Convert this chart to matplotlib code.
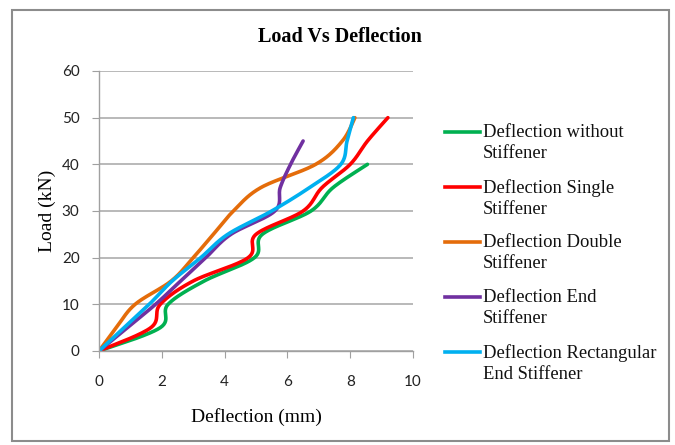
import numpy as np
import matplotlib
matplotlib.use("Agg")
import matplotlib.pyplot as plt
from matplotlib.patches import Rectangle
from matplotlib.lines import Line2D

# ---- data ----
load_9 = [0, 5, 10, 15, 20, 25, 30, 35, 40]
load_10 = [0, 5, 10, 15, 20, 25, 30, 35, 40, 45]
load_11 = [0, 5, 10, 15, 20, 25, 30, 35, 40, 45, 50]

defl_without = [0, 1.95, 2.2, 3.35, 4.95, 5.2, 6.75, 7.45, 8.55]
defl_single = [0, 1.65, 1.95, 3.0, 4.75, 5.0, 6.5, 7.1, 8.0, 8.55, 9.2]
defl_double = [0, 0.55, 1.15, 2.3, 3.0, 3.64, 4.28, 5.15, 6.9, 7.75, 8.15]
defl_end = [0, 0.9, 1.8, 2.6, 3.4, 4.2, 5.6, 5.77, 6.1, 6.5]
defl_rect = [0, 0.8, 1.6, 2.33, 3.24, 4.1, 5.5, 6.7, 7.7, 7.9, 8.1]

labels = ["Deflection without\nStiffener", "Deflection Single\nStiffener",
          "Deflection Double\nStiffener", "Deflection End\nStiffener",
          "Deflection Rectangular\nEnd Stiffener"]
colors = ["#00B050", "#FF0000", "#E46C0A", "#7030A0", "#00B0F0"]

title = "Load Vs Deflection"
xlabel = "Deflection (mm)"
ylabel = "Load (kN)"
xticks = [0, 2, 4, 6, 8, 10]
yticks = [0, 10, 20, 30, 40, 50, 60]


def smooth(xs, ys, n=30):
    """Excel-style smoothed line (Catmull-Rom through the data points)."""
    p = np.column_stack([xs, ys]).astype(float)
    p_ext = np.vstack([p[0], p, p[-1]])
    out = []
    t = np.linspace(0, 1, n)
    for i in range(1, len(p_ext) - 2):
        p0, p1, p2, p3 = p_ext[i - 1], p_ext[i], p_ext[i + 1], p_ext[i + 2]
        c1 = p1 + (p2 - p0) / 6
        c2 = p2 - (p3 - p1) / 6
        seg = ((1 - t) ** 3)[:, None] * p1 + (3 * (1 - t) ** 2 * t)[:, None] * c1 \
            + (3 * (1 - t) * t ** 2)[:, None] * c2 + (t ** 3)[:, None] * p2
        out.append(seg if i == 1 else seg[1:])
    s = np.vstack(out)
    return s[:, 0], s[:, 1]


series = [(defl_without, load_9), (defl_single, load_11), (defl_double, load_11),
          (defl_end, load_10), (defl_rect, load_11)]

W, H = 675, 445
fig = plt.figure(figsize=(W / 100, H / 100), dpi=100)
fig.patches.append(Rectangle((12 / W, 4 / H), 657 / W, 431 / H,
                             transform=fig.transFigure, fill=False,
                             edgecolor="#8c8c8c", linewidth=1.5))

ax = fig.add_axes([99 / W, 1 - 351 / H, 314 / W, 280 / H])

for (xs, ys), c, lab in zip(series, colors, labels):
    sx, sy = smooth(xs, ys)
    ax.plot(sx, sy, color=c, linewidth=2.6, label=lab, solid_capstyle="round")

ax.set_xlim(0, 10)
ax.set_ylim(0, 60)
ax.set_xticks(xticks)
ax.set_yticks(yticks)
ax.grid(axis="y", color="#a6a6a6", linewidth=1.1)
ax.set_axisbelow(True)
for s in ["top", "right"]:
    ax.spines[s].set_visible(False)
for s in ["left", "bottom"]:
    ax.spines[s].set_color("#a0a0a0")
    ax.spines[s].set_linewidth(1.0)
ax.tick_params(axis="both", direction="out", length=5, color="#a0a0a0",
               labelsize=11)
ax.tick_params(axis="x", pad=12)
ax.tick_params(axis="y", pad=9)
for lbl in ax.get_xticklabels() + ax.get_yticklabels():
    lbl.set_fontfamily(["Lato", "DejaVu Sans"])
    lbl.set_color("#222222")

fig.text(340 / W, 1 - 37 / H, title, ha="center", va="center",
         fontfamily=["Liberation Serif"], fontweight="bold", fontsize=14.5)
ax.set_xlabel(xlabel, fontfamily=["Liberation Serif"], fontsize=14, labelpad=14)
ax.set_ylabel(ylabel, fontfamily=["Liberation Serif"], fontsize=14, labelpad=4)

# legend: handle aligned with the first line of each two-line label
for i, (c, lab) in enumerate(zip(colors, labels)):
    yc = 132 + 55 * i
    fig.add_artist(Line2D([445 / W, 480 / W], [1 - yc / H, 1 - yc / H],
                          transform=fig.transFigure, color=c, linewidth=2.6))
    fig.text(483 / W, 1 - (yc - 8) / H, lab, ha="left", va="top",
             fontfamily=["Liberation Serif"], fontsize=13.4, linespacing=1.3,
             color="#111111")

fig.savefig("out.png", dpi=100)
